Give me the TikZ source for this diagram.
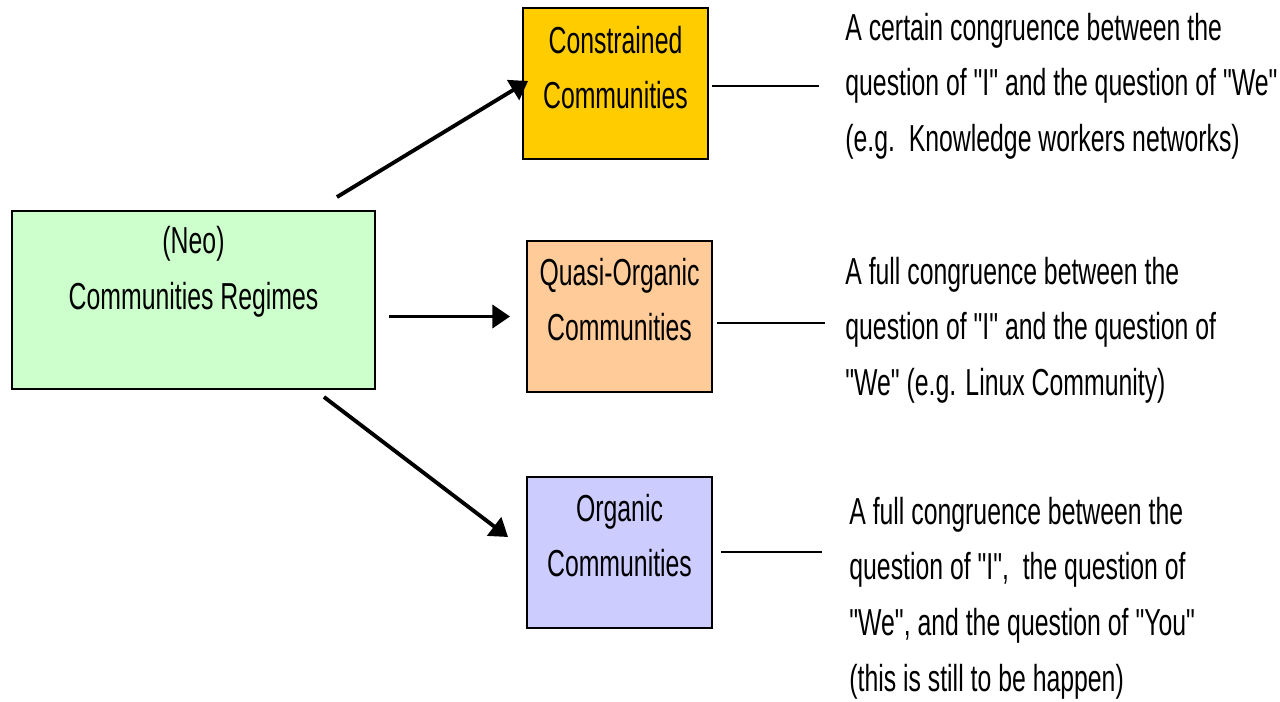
\documentclass[tikz,border=0pt]{standalone}
\usepackage{fontspec}
\setmainfont{Liberation Sans}[FakeStretch=0.66,Ligatures=TeXOff]
\usetikzlibrary{arrows.meta,positioning}

\definecolor{regime}{HTML}{CCFFCC}
\definecolor{constr}{HTML}{FFCC00}
\definecolor{quasi}{HTML}{FFCC99}
\definecolor{organic}{HTML}{CCCCFF}

\begin{document}
\begin{tikzpicture}[
    x=0.02cm, y=-0.02cm,
    box/.style={draw,line width=1.1pt,minimum width=3.7cm,minimum height=3.02cm,inner sep=0pt},
    txt/.style={align=center,inner sep=0pt,font=\fontsize{21.4}{31.7}\selectfont},
    note/.style={align=left,anchor=west,inner sep=0pt,font=\fontsize{21.4}{31.7}\selectfont},
    arr/.style={line width=2.2pt,-{Triangle[length=10pt,width=13pt]}},
    tie/.style={line width=1.2pt}
  ]
  \useasboundingbox (0,0) rectangle (1280,702);

  \node[box,fill=regime,minimum width=7.26cm,minimum height=3.56cm,
        label={[txt,yshift=0.57cm]center:{(Neo)\\Communities Regimes}}] (reg) at (193.5,300) {};

  \node[box,fill=constr,
        label={[txt,yshift=0.32cm]center:{Constrained\\Communities}}] (con) at (615.5,83.5) {};
  \node[box,fill=quasi,
        label={[txt,yshift=0.34cm]center:{Quasi-Organic\\Communities}}] (qo) at (619.5,316.5) {};
  \node[box,fill=organic,
        label={[txt,yshift=0.34cm]center:{Organic\\Communities}}] (org) at (619.5,552.5) {};

  \node[note] (t1) at (845,86) {A certain congruence between the\\
        question of "I" and the question of "We"\\(e.g.\ \ Knowledge workers networks)};
  \node[note] (t2) at (845,330) {A full congruence between the\\
        question of "I" and the question of\\"We" (e.g. Linux Community)};
  \node[note] (t3) at (849,598) {A full congruence between the\\
        question of "I",\ \ the question of\\"We", and the question of "You"\\
        (this is still to be happen)};

  % arrows out of the regimes box
  \draw[arr] ([shift={(-39,-13)}]reg.north east) -- ([shift={(6,-2.5)}]con.west);
  \draw[arr] ([shift={(13,16.5)}]reg.east) -- ([xshift=-0.32cm]qo.west);
  \draw[arr] ([shift={(-52,7)}]reg.south east) -- ([shift={(-18,-15.5)}]org.west);

  % ties to the notes
  \coordinate (e1) at (819,86);
  \coordinate (e2) at (825,323);
  \coordinate (e3) at (822,552);
  \draw[tie,shorten <=0.06cm] (con.east |- e1) -- (e1);
  \draw[tie,shorten <=0.08cm] (qo.east |- e2) -- (e2);
  \draw[tie,shorten <=0.16cm] (org.east |- e3) -- (e3);
\end{tikzpicture}
\end{document}
